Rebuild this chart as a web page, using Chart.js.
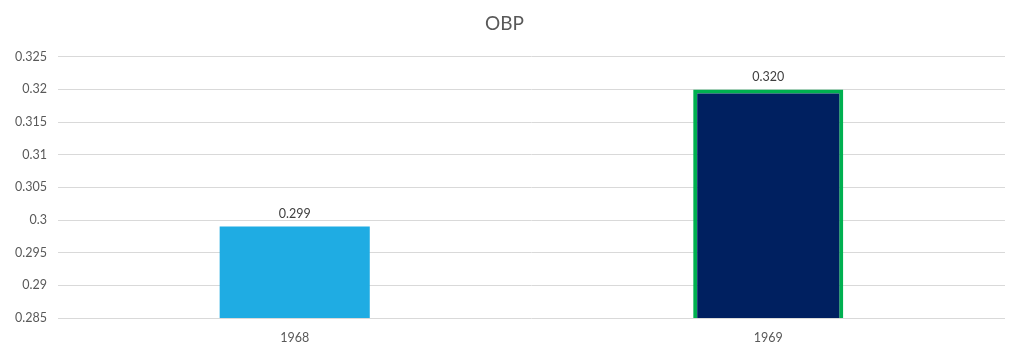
<!DOCTYPE html>
<html>
<head>
<meta charset="utf-8">
<script src="https://cdn.jsdelivr.net/npm/chart.js@4"></script>
<style>
  html, body { margin: 0; padding: 0; background: #fff; }
  #wrap { width: 1024px; height: 353px; }
</style>
</head>
<body>
<div id="wrap"><canvas id="chart"></canvas></div>
<script>
const years = ["1968", "1969"]
const obp = [0.299, 0.320]
const barColors = ["#1FACE3", "#002060"]
const barBorders = ["#1FACE3", "#00B050"]
const barBorderWidths = [0, 4]

// draws the value above each bar
const valueLabels = {
  id: "valueLabels",
  afterDatasetsDraw(chart) {
    const ctx = chart.ctx
    const meta = chart.getDatasetMeta(0)
    ctx.save()
    ctx.font = "12.5px Lato"
    ctx.fillStyle = "#404040"
    ctx.textAlign = "center"
    ctx.textBaseline = "bottom"
    meta.data.forEach((bar, i) => {
      ctx.fillText(obp[i].toFixed(3), bar.x, bar.y - 6)
    })
    ctx.restore()
  }
}

new Chart(document.getElementById("chart"), {
  type: "bar",
  data: {
    labels: years,
    datasets: [{
      label: "OBP",
      data: obp,
      backgroundColor: barColors,
      borderColor: barBorders,
      borderWidth: barBorderWidths,
      borderSkipped: false,
      categoryPercentage: 0.317,
      barPercentage: 1
    }]
  },
  options: {
    responsive: true,
    maintainAspectRatio: false,
    animation: false,
    layout: { padding: { left: 4, right: 19, top: 8, bottom: 4 } },
    plugins: {
      legend: { display: false },
      tooltip: { enabled: false },
      title: {
        display: true,
        text: "OBP",
        color: "#595959",
        font: { family: "Lato", size: 19, weight: "normal" },
        padding: { top: 4, bottom: 22 }
      }
    },
    scales: {
      x: {
        grid: { display: false },
        border: { display: false },
        ticks: {
          color: "#595959",
          font: { family: "Lato", size: 12.5 },
          padding: 4
        }
      },
      y: {
        min: 0.285,
        max: 0.325,
        border: { display: false },
        grid: { color: "#D9D9D9", lineWidth: 1, drawTicks: false },
        ticks: {
          stepSize: 0.005,
          color: "#595959",
          font: { family: "Lato", size: 12.5 },
          padding: 11,
          callback: v => String(parseFloat(v.toFixed(3)))
        }
      }
    }
  },
  plugins: [valueLabels]
})
</script>
</body>
</html>
